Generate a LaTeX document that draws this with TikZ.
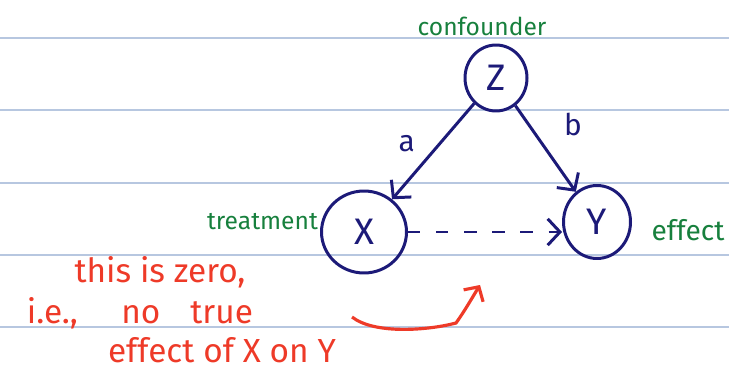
\documentclass[tikz,border=0pt]{standalone}
\usepackage{fontspec}
\setmainfont{Fira Sans}
\usetikzlibrary{positioning, arrows.meta, shapes.geometric}
\definecolor{inkNavy}{HTML}{1C1A78}
\definecolor{inkGreen}{HTML}{17803D}
\definecolor{inkRed}{HTML}{EE3A28}
\definecolor{ruleBlue}{HTML}{B7C7E0}

\begin{document}
\begin{tikzpicture}[
  x=0.02cm, y=-0.02cm,
  var/.style={
    ellipse, inner sep=0pt,
    draw=inkNavy, line width=1.7pt,
    text=inkNavy, font=\fontsize{21}{24}\selectfont
  },
  role/.style={text=inkGreen, font=\fontsize{14}{16}\selectfont, inner sep=1pt},
  coef/.style={text=inkNavy, font=\fontsize{17}{20}\selectfont},
  edge/.style={inkNavy, line width=1.7pt, -{Straight Barb[length=7pt,width=15pt]}},
  note/.style={text=inkRed, font=\fontsize{19}{22}\selectfont},
  ruling/.style={ruleBlue, line width=1pt},
]
\useasboundingbox (0,0) rectangle (729,371);

% Ruled paper
\foreach \y in {38,110,183,255,327}
  \draw[ruling] (0,\y) -- (729,\y);

% Variables
\node[var, minimum width=1.24cm, minimum height=1.32cm] (z) at (496,78) {Z};
\node[var, minimum width=1.70cm, minimum height=1.64cm] (x) at (364,232) {X};
\node[var, minimum width=1.34cm, minimum height=1.46cm] (y) at (597,222) {Y};

% Roles
\node[role] (conf) at (482,26) {confounder};
\node[role, left=0pt of x, yshift=6pt] (treat) {treatment};
\node[role, font=\fontsize{16}{18}\selectfont] (eff) at (688,230) {effect};

% Paths
\draw[edge] (z) -- node[coef, pos=0.42, left=10pt] (a) {a} (x);
\draw[edge] (z) -- node[coef, pos=0.22, right=16pt] (b) {b} (y);
\draw[edge, dash pattern=on 7pt off 9pt] (x.east) -- (x.east -| y.west);

% Red note
\node[note] (n1) at (160,272) {this is zero,};
\node[note] (n2) at (140,313) {i.e.,\hspace{1.3em}no\hspace{0.9em}true};
\node[note] (n3) at (222,350) {effect of X on Y};

\coordinate (rs) at (352,317);
\coordinate (rk) at (456,323);
\coordinate (rt) at (480,285);
\draw[inkRed, line width=1.8pt, -{Straight Barb[length=6pt,width=13pt]}]
  (rs) .. controls (375,335) and (430,330) .. (rk)
  .. controls (464,312) and (472,298) .. (rt);

\end{tikzpicture}
\end{document}
